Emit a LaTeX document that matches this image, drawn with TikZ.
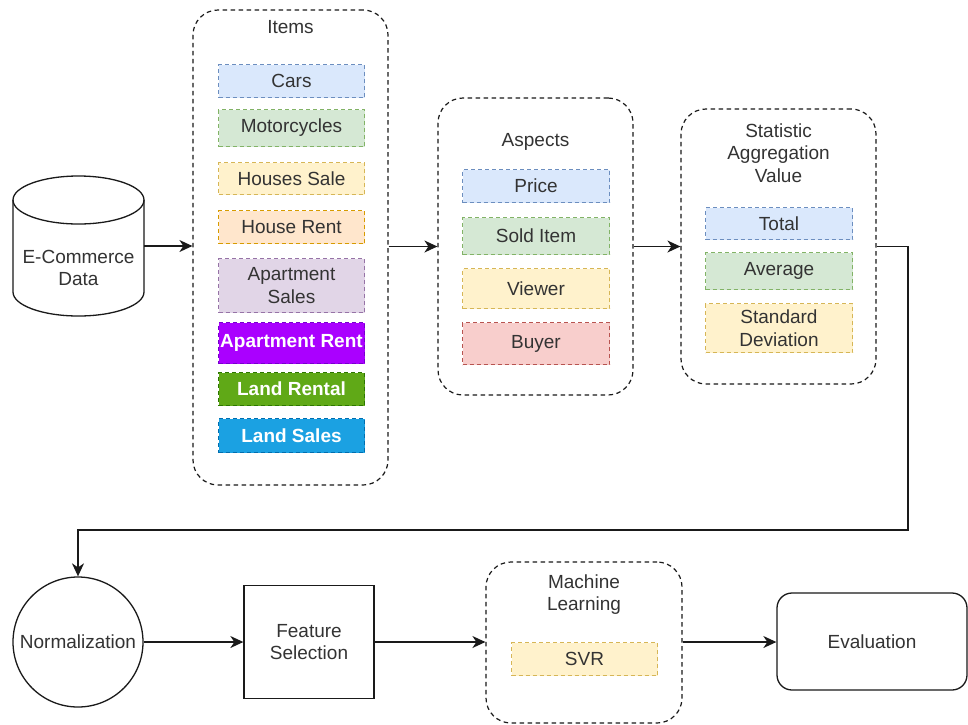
\documentclass[tikz,border=0pt]{standalone}
\usepackage{fontspec}
\setmainfont{Liberation Sans}
\usetikzlibrary{arrows.meta}
\definecolor{txt}{HTML}{333333}
\definecolor{bfill}{HTML}{DAE8FC}\definecolor{bdraw}{HTML}{6C8EBF}
\definecolor{gfill}{HTML}{D5E8D4}\definecolor{gdraw}{HTML}{82B366}
\definecolor{yfill}{HTML}{FFF2CC}\definecolor{ydraw}{HTML}{D6B656}
\definecolor{ofill}{HTML}{FFE6CC}\definecolor{odraw}{HTML}{D79B00}
\definecolor{pfill}{HTML}{E1D5E7}\definecolor{pdraw}{HTML}{9673A6}
\definecolor{rfill}{HTML}{F8CECC}\definecolor{rdraw}{HTML}{B85450}
\definecolor{vfill}{HTML}{AA00FF}\definecolor{vdraw}{HTML}{7700CC}
\definecolor{lgfill}{HTML}{60A917}\definecolor{lgdraw}{HTML}{2D7600}
\definecolor{lbfill}{HTML}{1BA1E2}\definecolor{lbdraw}{HTML}{006EAF}
\definecolor{linec}{HTML}{1A1A1A}
\tikzset{
  group/.style={draw=linec, line width=1.2pt, dash pattern=on 4.5pt off 3.5pt, rounded corners=25pt, inner sep=0pt},
  itembox/.style 2 args={fill=#1, draw=#2, line width=1pt, dash pattern=on 4pt off 3pt, inner sep=0pt, align=center, anchor=north west},
  whitetxt/.style={text=white, font=\fontsize{19}{22.5}\selectfont\bfseries},
  ttl/.style={align=center, inner sep=0pt},
  solidbox/.style={draw=linec, line width=1.3pt, align=center, inner sep=0pt},
  arr/.style={draw=linec, line width=1.4pt, -{Stealth[length=13pt,width=12pt,inset=4pt]}},
  conn/.style={draw=linec, line width=1.4pt}
}
\begin{document}
\begin{tikzpicture}[x=1pt,y=-1pt, font=\fontsize{19}{22.5}\selectfont, text=txt]
\useasboundingbox[fill=white] (0,0) rectangle (968,724);

% E-Commerce Data cylinder
\node[minimum width=131pt, minimum height=140pt, inner sep=0pt] (db) at (78.5,246) {};
\draw[conn, line width=1.3pt] (13,200) -- (13,292) arc[start angle=180, end angle=0, x radius=65.5, y radius=24] -- (144,200);
\draw[conn, line width=1.3pt] (78.5,200) ellipse[x radius=65.5, y radius=24];
\node[ttl] (dbtext) at (78.5,268) {E-Commerce\\Data};

% Items group
\node[group, minimum width=195pt, minimum height=475pt] (items) at (290.5,247.5) {};
\node[ttl] (itemsttl) at (290.5,27) {Items};
\node[itembox={bfill}{bdraw}, minimum width=146pt, minimum height=33pt] (cars) at (218,64) {Cars};
\node[itembox={gfill}{gdraw}, minimum width=146pt, minimum height=37pt] (moto) at (218,109) {Motorcycles};
\node[itembox={yfill}{ydraw}, minimum width=146pt, minimum height=32pt] (hsale) at (218,162) {Houses Sale};
\node[itembox={ofill}{odraw}, minimum width=146pt, minimum height=33pt] (hrent) at (218,210) {House Rent};
\node[itembox={pfill}{pdraw}, minimum width=146pt, minimum height=54pt] (asale) at (218,258) {Apartment\\Sales};
\node[itembox={vfill}{vdraw}, minimum width=146pt, minimum height=41pt, whitetxt] (arent) at (218,322) {Apartment Rent};
\node[itembox={lgfill}{lgdraw}, minimum width=146pt, minimum height=33pt, whitetxt] (lrent) at (218,372) {Land Rental};
\node[itembox={lbfill}{lbdraw}, minimum width=146pt, minimum height=34pt, whitetxt] (lsale) at (218,418) {Land Sales};

% Aspects group
\node[group, minimum width=195pt, minimum height=297pt] (aspects) at (535.5,246.5) {};
\node[ttl] (aspttl) at (535.5,142) {Aspects};
\node[itembox={bfill}{bdraw}, minimum width=147pt, minimum height=33pt] (price) at (462,169) {Price};
\node[itembox={gfill}{gdraw}, minimum width=147pt, minimum height=37pt] (sold) at (462,217) {Sold Item};
\node[itembox={yfill}{ydraw}, minimum width=147pt, minimum height=40pt] (viewer) at (462,268) {Viewer};
\node[itembox={rfill}{rdraw}, minimum width=147pt, minimum height=42pt] (buyer) at (462,322) {Buyer};

% Statistic group
\node[group, minimum width=195pt, minimum height=275pt] (stat) at (778.5,246.5) {};
\node[ttl] (statttl) at (778.5,153) {Statistic\\Aggregation\\Value};
\node[itembox={bfill}{bdraw}, minimum width=147pt, minimum height=32pt] (total) at (705,207) {Total};
\node[itembox={gfill}{gdraw}, minimum width=147pt, minimum height=37pt] (avg) at (705,252) {Average};
\node[itembox={yfill}{ydraw}, minimum width=147pt, minimum height=49pt] (std) at (705,303) {Standard\\Deviation};

% Bottom row
\node[solidbox, circle, minimum size=130pt] (norm) at (78,642) {Normalization};
\node[solidbox, minimum width=130pt, minimum height=113pt] (fs) at (309,642) {Feature\\Selection};
\node[group, minimum width=196pt, minimum height=161pt] (ml) at (584,642.5) {};
\node[ttl] (mlttl) at (584,594.5) {Machine\\Learning};
\node[itembox={yfill}{ydraw}, minimum width=146pt, minimum height=33pt] (svr) at (511,642) {SVR};
\node[solidbox, rounded corners=15pt, minimum width=190pt, minimum height=97pt] (eval) at (872,641.5) {Evaluation};

% connectors
\coordinate (c1) at (908,530);
\draw[arr] (db.east) -- (db.east -| items.west);
\draw[arr] (aspects.west -| items.east) -- (aspects.west);
\draw[arr] (aspects.east) -- (stat.west);
\draw[arr] (stat.east) -| (c1) -| (norm.north);
\draw[arr] (norm.east) -- (fs.west);
\draw[arr] (fs.east) -- (fs.east -| ml.west);
\draw[arr] (fs.east -| ml.east) -- (fs.east -| eval.west);
\end{tikzpicture}
\end{document}
